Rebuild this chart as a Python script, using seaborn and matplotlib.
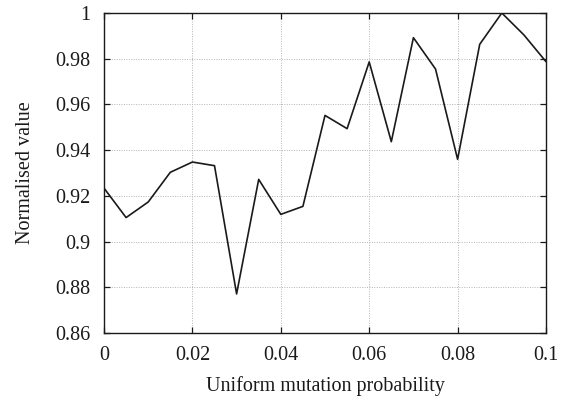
import matplotlib
matplotlib.use("Agg")
import matplotlib.pyplot as plt
import seaborn as sns
import pandas as pd

# Uniform mutation probability sweep and the normalised result at each setting
mutation_prob = [0.000, 0.005, 0.010, 0.015, 0.020, 0.025, 0.030, 0.035, 0.040, 0.045,
                 0.050, 0.055, 0.060, 0.065, 0.070, 0.075, 0.080, 0.085, 0.090, 0.095, 0.100]
normalised = [0.9234, 0.9105, 0.9173, 0.9303, 0.9348, 0.9332, 0.8771, 0.9272, 0.9119, 0.9154,
              0.9552, 0.9494, 0.9786, 0.9437, 0.9892, 0.9755, 0.9360, 0.9863, 1.0000, 0.9904, 0.9787]

x_ticks = [0, 0.02, 0.04, 0.06, 0.08, 0.1]
x_tick_labels = ["0", "0.02", "0.04", "0.06", "0.08", "0.1"]
y_ticks = [0.86, 0.88, 0.90, 0.92, 0.94, 0.96, 0.98, 1.0]
y_tick_labels = ["0.86", "0.88", "0.9", "0.92", "0.94", "0.96", "0.98", "1"]

sns.set_style("ticks")
plt.rcParams["font.family"] = ["Liberation Serif", "DejaVu Serif"]
plt.rcParams["font.size"] = 14.5

df = pd.DataFrame({"p": mutation_prob, "v": normalised})

fig = plt.figure(figsize=(5.67, 4.0), dpi=100)
ax = fig.add_axes([0.1834, 0.1675, 0.7796, 0.8])

sns.lineplot(data=df, x="p", y="v", ax=ax, color="#1a1a1a", linewidth=1.2)

ax.set_xlim(0, 0.1)
ax.set_ylim(0.86, 1.0)
ax.set_xticks(x_ticks)
ax.set_xticklabels(x_tick_labels)
ax.set_yticks(y_ticks)
ax.set_yticklabels(y_tick_labels)

ax.grid(True, color="#b4b4b4", linestyle=(0, (1, 1.5)), linewidth=0.7)
ax.tick_params(axis="both", which="major", direction="in", length=4, width=0.9,
               top=True, right=True, labelsize=14.5, colors="#1a1a1a")
ax.tick_params(axis="x", pad=9)
ax.tick_params(axis="y", pad=10)
for s in ax.spines.values():
    s.set_visible(True)
    s.set_color("#1a1a1a")
    s.set_linewidth(1.0)

ax.set_xlabel("Uniform mutation probability", fontsize=14.5, color="#1a1a1a", labelpad=8)
ax.set_ylabel("Normalised value", fontsize=14.5, color="#1a1a1a", labelpad=14)

fig.savefig("out.png", dpi=100)
